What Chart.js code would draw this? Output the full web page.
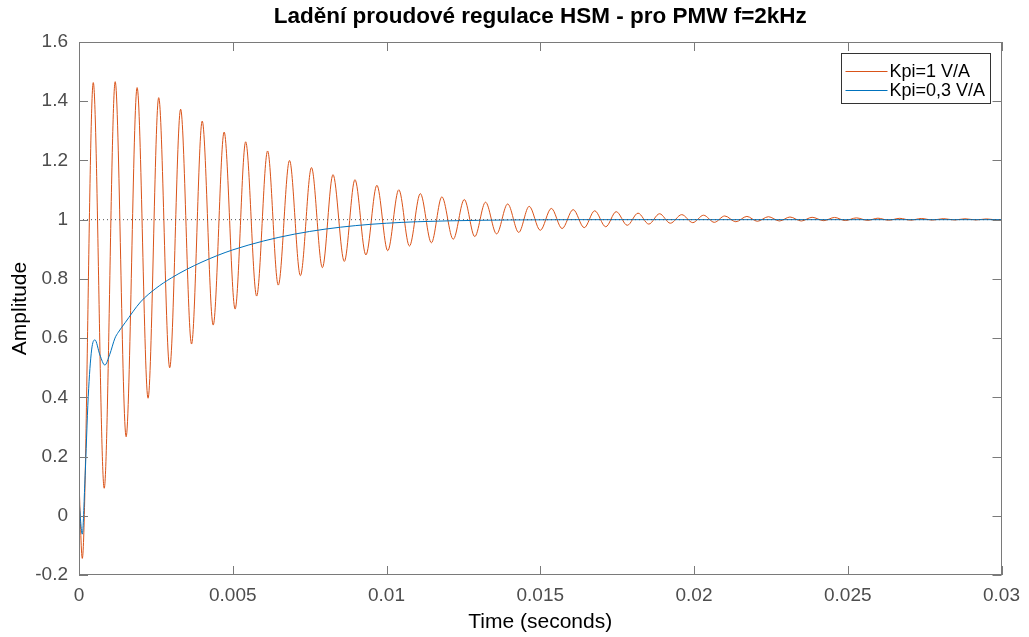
<!DOCTYPE html>
<html>
<head>
<meta charset="utf-8">
<title>Ladění proudové regulace HSM</title>
<script src="https://cdn.jsdelivr.net/npm/chart.js@4.4.1/dist/chart.umd.min.js"></script>
<style>
  body { margin: 0; background: #fff; }
  #wrap { width: 1029px; height: 637px; }
</style>
</head>
<body>
<div id="wrap"><canvas id="chart-1" width="1029" height="637"></canvas></div>
<script>
// peaks/troughs of the Kpi=1 response
const kpi1Time = [0, 0.000107, 0.000464, 0.00082, 0.001177, 0.001533, 0.00189, 0.002246, 0.002592, 0.00295,
  0.003305, 0.00366, 0.004007, 0.004364, 0.00472, 0.005077, 0.00542, 0.005777, 0.006133, 0.00648,
  0.006846, 0.0072, 0.00756, 0.007915, 0.00826, 0.008628, 0.008974, 0.00933, 0.009687, 0.01004,
  0.0104, 0.010746, 0.0111, 0.01146, 0.0118, 0.01217, 0.01253, 0.01287, 0.01322, 0.01358,
  0.01394, 0.0143, 0.01464, 0.015, 0.01536, 0.01571, 0.01607, 0.01643, 0.01677, 0.01713,
  0.01747, 0.01783, 0.01818, 0.01853, 0.01888, 0.01923, 0.0196, 0.01996, 0.02031, 0.02066,
  0.021, 0.02136, 0.02172, 0.02206, 0.02242, 0.02278, 0.02312, 0.02349, 0.02384, 0.02422,
  0.02457, 0.02492, 0.02528, 0.02565, 0.02598, 0.02633, 0.02669, 0.02705, 0.02739, 0.02776,
  0.02811, 0.02847, 0.02881, 0.02917, 0.02951, 0.02987, 0.03];
const kpi1Amp = [0.115, -0.144, 1.463, 0.093, 1.466, 0.267, 1.446, 0.397, 1.412, 0.5,
  1.373, 0.58, 1.333, 0.644, 1.296, 0.698, 1.263, 0.742, 1.232, 0.779,
  1.2, 0.811, 1.176, 0.838, 1.152, 0.859, 1.135, 0.881, 1.116, 0.895,
  1.101, 0.911, 1.088, 0.922, 1.077, 0.934, 1.068, 0.943, 1.059, 0.952,
  1.053, 0.957, 1.045, 0.964, 1.038, 0.97, 1.034, 0.973, 1.03, 0.976,
  1.027, 0.981, 1.022, 0.985, 1.02, 0.988, 1.017, 0.99, 1.015, 0.991,
  1.0125, 0.993, 1.011, 0.9945, 1.01, 0.9955, 1.009, 0.9955, 1.008, 0.9966,
  1.0075, 0.997, 1.006, 0.9975, 1.005, 0.998, 1.0045, 0.9982, 1.004, 0.9985,
  1.0035, 0.9988, 1.003, 0.999, 1.0025, 0.999, 1.001];

// Kpi=0.3 response
const kpi03Time = [0, 0.000107, 0.000194, 0.0003, 0.00041, 0.000518, 0.00068, 0.00084, 0.001, 0.00117,
  0.00128, 0.0015, 0.002, 0.0025, 0.003, 0.0035, 0.004, 0.0045, 0.005, 0.006,
  0.007, 0.008, 0.009, 0.01, 0.011, 0.012, 0.014, 0.016, 0.03];
const kpi03Amp = [0.053, -0.062, 0.121, 0.402, 0.56, 0.594, 0.543, 0.509, 0.545, 0.6,
  0.62, 0.652, 0.722, 0.768, 0.803, 0.832, 0.857, 0.879, 0.898, 0.928,
  0.951, 0.968, 0.98, 0.988, 0.993, 0.996, 0.999, 1.0, 1.0];

const seriesNames = ['Kpi=1 V/A', 'Kpi=0,3 V/A'];
const finalValue = 1;
const chartTitle = 'Ladění proudové regulace HSM - pro PMW f=2kHz';

const xTickValues = [0, 0.005, 0.01, 0.015, 0.02, 0.025, 0.03];
const xTickLabels = ['0', '0.005', '0.01', '0.015', '0.02', '0.025', '0.03'];
const yTickValues = [-0.2, 0, 0.2, 0.4, 0.6, 0.8, 1, 1.2, 1.4, 1.6];
const yTickLabels = ['-0.2', '0', '0.2', '0.4', '0.6', '0.8', '1', '1.2', '1.4', '1.6'];

const orange = 'rgb(217,83,25)';
const blue = 'rgb(0,114,189)';
const fontFam = 'Arial, "Liberation Sans", sans-serif';

function toPoints(t, v) {
  return t.map(function (x, i) { return { x: x, y: v[i] }; });
}

// box around the axes with inward tick marks + title centred on the axes, like matlab
const frameTicks = {
  id: 'frameTicks',
  afterDatasetsDraw(chart) {
    const ctx = chart.ctx;
    const a = chart.chartArea;
    const sx = chart.scales.x, sy = chart.scales.y;
    const len = 9;
    ctx.save();
    ctx.strokeStyle = '#7a7a7a';
    ctx.lineWidth = 1;
    ctx.strokeRect(Math.round(a.left) + 0.5, Math.round(a.top) + 0.5,
      Math.round(a.right - a.left) - 1, Math.round(a.bottom - a.top) - 1);
    ctx.beginPath();
    xTickValues.forEach(function (v) {
      const px = Math.round(sx.getPixelForValue(v)) + 0.5;
      ctx.moveTo(px, a.bottom); ctx.lineTo(px, a.bottom - len);
      ctx.moveTo(px, a.top); ctx.lineTo(px, a.top + len);
    });
    yTickValues.forEach(function (v) {
      const py = Math.round(sy.getPixelForValue(v)) + 0.5;
      ctx.moveTo(a.left, py); ctx.lineTo(a.left + len, py);
      ctx.moveTo(a.right, py); ctx.lineTo(a.right - len, py);
    });
    ctx.stroke();

    ctx.fillStyle = '#000';
    ctx.font = 'bold 22.5px ' + fontFam;
    ctx.textAlign = 'center';
    ctx.textBaseline = 'middle';
    ctx.fillText(chartTitle, (a.left + a.right) / 2, 17);
    ctx.restore();
  }
};

const boxLegend = {
  id: 'boxLegend',
  afterDraw(chart) {
    const ctx = chart.ctx;
    const a = chart.chartArea;
    const w = 149, h = 50;
    const left = Math.round(a.right - 12 - w) + 0.5;
    const top = Math.round(a.top + 11) + 0.5;
    ctx.save();
    ctx.fillStyle = '#fff';
    ctx.fillRect(left, top, w, h);
    ctx.strokeStyle = '#333';
    ctx.lineWidth = 1;
    ctx.strokeRect(left, top, w, h);
    ctx.font = '18px ' + fontFam;
    ctx.textBaseline = 'middle';
    ctx.fillStyle = '#000';
    [orange, blue].forEach(function (c, i) {
      const ly = top + 18 + i * 19;
      ctx.strokeStyle = c;
      ctx.beginPath();
      ctx.moveTo(left + 4, ly);
      ctx.lineTo(left + 46, ly);
      ctx.stroke();
      ctx.fillText(seriesNames[i], left + 48, ly + 1);
    });
    ctx.restore();
  }
};

const ctx1 = document.getElementById('chart-1').getContext('2d');
const myChart1 = new Chart(ctx1, {
  type: 'line',
  data: {
    datasets: [
      {
        label: seriesNames[0],
        data: toPoints(kpi1Time, kpi1Amp),
        borderColor: orange,
        borderWidth: 1,
        pointRadius: 0,
        cubicInterpolationMode: 'monotone',
        order: 2
      },
      {
        label: seriesNames[1],
        data: toPoints(kpi03Time, kpi03Amp),
        borderColor: blue,
        borderWidth: 1,
        pointRadius: 0,
        cubicInterpolationMode: 'monotone',
        order: 1
      },
      {
        label: 'final',
        data: [{ x: 0, y: finalValue }, { x: 0.03, y: finalValue }],
        borderColor: '#555',
        borderWidth: 1,
        borderDash: [1, 3],
        pointRadius: 0,
        order: 0
      }
    ]
  },
  options: {
    responsive: false,
    animation: false,
    events: [],
    layout: { padding: { top: 42, right: 24, bottom: 0, left: 0 } },
    plugins: {
      legend: { display: false },
      tooltip: { enabled: false },
      title: { display: false }
    },
    scales: {
      x: {
        type: 'linear',
        min: 0,
        max: 0.03,
        afterBuildTicks: function (scale) {
          scale.ticks = xTickValues.map(function (v) { return { value: v }; });
        },
        afterFit: function (scale) { scale.height = 62; },
        grid: { display: false, drawTicks: false },
        border: { display: false },
        ticks: {
          autoSkip: false,
          maxRotation: 0,
          padding: 9,
          color: '#4d4d4d',
          font: { family: fontFam, size: 19 },
          callback: function (value, index) { return xTickLabels[index]; }
        },
        title: {
          display: true,
          text: 'Time (seconds)',
          color: '#000',
          font: { family: fontFam, size: 21 },
          padding: { top: 0, bottom: 2.4 }
        }
      },
      y: {
        type: 'linear',
        min: -0.2,
        max: 1.6,
        afterBuildTicks: function (scale) {
          scale.ticks = yTickValues.map(function (v) { return { value: v }; });
        },
        afterFit: function (scale) { scale.width = 79; },
        grid: { display: false, drawTicks: false },
        border: { display: false },
        ticks: {
          autoSkip: false,
          padding: 11,
          color: '#4d4d4d',
          font: { family: fontFam, size: 19 },
          callback: function (value, index) { return yTickLabels[index]; }
        },
        title: {
          display: true,
          text: 'Amplitude',
          color: '#000',
          font: { family: fontFam, size: 21 },
          padding: { top: 7.4, bottom: 0 }
        }
      }
    }
  },
  plugins: [frameTicks, boxLegend]
});
</script>
</body>
</html>
